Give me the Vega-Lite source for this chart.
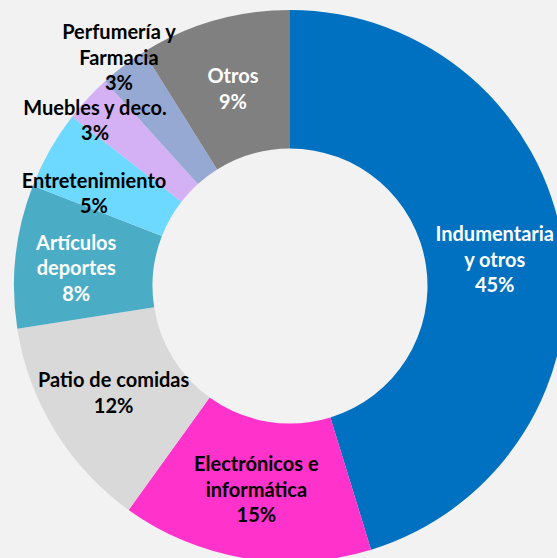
{
  "$schema": "https://vega.github.io/schema/vega-lite/v6.json",
  "autosize": "none",
  "width": 534,
  "height": 544,
  "padding": {"left": 23, "top": 14, "right": 0, "bottom": 0},
  "background": "#F2F2F2",
  "config": {"view": {"stroke": null}, "text": {"font": "Lato", "fontWeight": "bold", "fontSize": 20, "lineHeight": 25.5, "lineBreak": "\n", "align": "center", "baseline": "middle"}},
  "data": {
    "values": [
      {"idx": 1, "cat": "Indumentaria y otros", "value": 45.3, "label": "Indumentaria\ny otros\n45%"},
      {"idx": 2, "cat": "Electrónicos e informática", "value": 14.7, "label": "Electrónicos e\ninformática\n15%"},
      {"idx": 3, "cat": "Patio de comidas", "value": 12.6, "label": "Patio de comidas\n12%"},
      {"idx": 4, "cat": "Artículos deportes", "value": 8.4, "label": "Artículos\ndeportes\n8%"},
      {"idx": 5, "cat": "Entretenimiento", "value": 4.6, "label": "Entretenimiento\n5%"},
      {"idx": 6, "cat": "Muebles y deco.", "value": 2.8, "label": "Muebles y deco.\n3%"},
      {"idx": 7, "cat": "Perfumería y Farmacia", "value": 2.8, "label": "Perfumería y\nFarmacia\n3%"},
      {"idx": 8, "cat": "Otros", "value": 8.9, "label": "Otros\n9%"}
    ]
  },
  "encoding": {
    "theta": {"field": "value", "type": "quantitative", "stack": true},
    "order": {"field": "idx", "type": "quantitative"}
  },
  "layer": [
    {
      "mark": {"type": "arc", "outerRadius": 276, "innerRadius": 137.5},
      "encoding": {
        "color": {
          "field": "cat",
          "type": "nominal",
          "legend": null,
          "scale": {
            "domain": ["Indumentaria y otros", "Electrónicos e informática", "Patio de comidas", "Artículos deportes", "Entretenimiento", "Muebles y deco.", "Perfumería y Farmacia", "Otros"],
            "range": ["#0070C0", "#FF33CC", "#D9D9D9", "#4BACC6", "#6DD9FF", "#D4B1F5", "#95A9D3", "#808080"]
          }
        }
      }
    },
    {
      "mark": {"type": "text", "radius": 207, "dy": -20, "color": "#FFFFFF"},
      "encoding": {"text": {"condition": {"test": "datum.cat === 'Indumentaria y otros'", "field": "label"}, "value": ""}}
    },
    {
      "mark": {"type": "text", "radius": 207, "dy": -25, "color": "#000000"},
      "encoding": {"text": {"condition": {"test": "datum.cat === 'Electrónicos e informática'", "field": "label"}, "value": ""}}
    },
    {
      "mark": {"type": "text", "radius": 207, "dx": -8, "dy": -20, "color": "#FFFFFF"},
      "encoding": {"text": {"condition": {"test": "datum.cat === 'Artículos deportes'", "field": "label"}, "value": ""}}
    },
    {
      "mark": {"type": "text", "radius": 207, "dy": -13, "color": "#000000"},
      "encoding": {"text": {"condition": {"test": "datum.cat === 'Patio de comidas'", "field": "label"}, "value": ""}}
    },
    {
      "mark": {"type": "text", "radius": 207, "dx": -16, "dy": -2, "color": "#000000"},
      "encoding": {"text": {"condition": {"test": "datum.cat === 'Entretenimiento'", "field": "label"}, "value": ""}}
    },
    {
      "mark": {"type": "text", "radius": 207, "dy": -10, "color": "#FFFFFF"},
      "encoding": {"text": {"condition": {"test": "datum.cat === 'Otros'", "field": "label"}, "value": ""}}
    },
    {
      "mark": {"type": "text", "radius": 262, "dx": -3, "dy": 1, "color": "#000000"},
      "encoding": {"text": {"condition": {"test": "datum.cat === 'Muebles y deco.'", "field": "label"}, "value": ""}}
    },
    {
      "mark": {"type": "text", "radius": 284, "dy": -26, "color": "#000000"},
      "encoding": {"text": {"condition": {"test": "datum.cat === 'Perfumería y Farmacia'", "field": "label"}, "value": ""}}
    }
  ]
}
